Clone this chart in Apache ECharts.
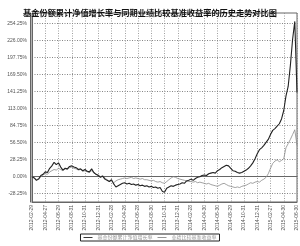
<!DOCTYPE html>
<html><head><meta charset="utf-8">
<script src="https://cdn.jsdelivr.net/npm/echarts@6/dist/echarts.min.js"></script>
<style>html,body{margin:0;padding:0;background:#fff}#c{width:300px;height:246px}</style>
</head><body><div id="c"></div>
<script>
const titleText = '基金份额累计净值增长率与同期业绩比较基准收益率的历史走势对比图';
const seriesNames = ['基金份额累计净值增长率', '业绩比较基准收益率'];
const tickLabels = ['2012-02-29','2012-04-27','2012-06-29','2012-08-31','2012-10-31','2012-12-31','2013-02-28','2013-04-26','2013-06-28','2013-08-30','2013-10-31','2013-12-31','2014-02-28','2014-04-30','2014-06-30','2014-08-29','2014-10-31','2014-12-31','2015-02-27','2015-04-30','2015-06-30'];
const yTicks = [-28.25, 0, 28.25, 56.5, 84.75, 113, 141.25, 169.5, 197.75, 226, 254.25];
const fundValues = [0,-2,-6,-4,2,4,8,7,14,18,24,20,23,16,11,14,13,17,18,16,15,12,13,10,12,9,8,13,7,4,2,-1,1,-4,-6,-8,-5,-12,-17,-15,-13,-11,-10,-12,-11,-13,-12,-14,-13,-15,-14,-16,-15,-17,-16,-18,-17,-19,-18,-24,-26,-19,-17,-15,-16,-14,-13,-12,-10,-11,-7,-6,-4,-6,-3,-1,0,2,3,2,5,6,7,6,10,12,15,17,19,18,14,10,9,7,6,7,9,11,14,18,23,30,38,45,48,52,57,62,70,77,80,84,88,96,110,134,150,185,228,258,140];
const benchValues = [0,-2,-5,-3,0,3,5,4,8,10,12,11,14,12,10,13,12,15,16,14,13,11,12,9,10,8,7,10,6,4,3,0,2,-2,-5,-8,-6,-10,-7,-5,-4,-3,-2,-3,-2,-1,-3,-2,-3,-4,-3,-5,-5,-6,-7,-6,-8,-9,-8,-10,-11,-8,-5,-2,0,-1,-3,-4,-5,-6,-7,-8,-8,-9,-8,-10,-9,-10,-11,-12,-11,-13,-14,-15,-16,-14,-12,-11,-13,-15,-16,-17,-18,-17,-18,-16,-15,-14,-12,-10,-11,-9,-8,-9,-6,-4,-1,5,14,22,26,28,25,27,30,48,55,62,70,78,52];

const perTick = 6;
const categories = fundValues.map((v, i) => (i % perTick === 0 ? tickLabels[i / perTick] : ''));

const chart = echarts.init(document.getElementById('c'), null, {renderer: 'canvas'});
chart.setOption({
  backgroundColor: '#fff',
  animation: false,
  title: {
    text: titleText, left: 'center', top: 4,
    textStyle: {fontFamily: 'Noto Sans CJK SC', fontWeight: 'bold', fontSize: 8.2, color: '#111'}
  },
  legend: {
    data: seriesNames, left: 'center', top: 234,
    backgroundColor: '#fff',
    borderColor: '#222', borderWidth: 1, padding: [1, 3],
    itemWidth: 9, itemHeight: 1, itemGap: 5,
    icon: 'path://M0,0H10V1H0Z',
    textStyle: {fontFamily: 'Noto Sans CJK SC', fontSize: 5, color: '#999'}
  },
  grid: {left: 32, right: 3, top: 13, bottom: 44, show: true, borderColor: '#666', borderWidth: 1},
  xAxis: [{
    type: 'category', data: categories, boundaryGap: false,
    axisLine: {lineStyle: {color: '#666', width: 1}},
    axisTick: {show: false},
    axisLabel: {interval: perTick - 1, rotate: 90, fontSize: 5, color: '#555', margin: 3, fontFamily: 'Liberation Sans'},
    splitLine: {show: true, interval: perTick - 1, lineStyle: {color: '#888', type: [1, 1.5], width: 0.8}}
  }, {
    type: 'category', data: categories, position: 'bottom', offset: 2,
    axisLine: {lineStyle: {color: '#666', width: 1}},
    axisTick: {show: false}, axisLabel: {show: false}, splitLine: {show: false}
  }],
  yAxis: [{
    type: 'value', min: -42, max: 272,
    axisLine: {show: true, lineStyle: {color: '#666', width: 1}},
    axisTick: {show: false, customValues: yTicks},
    axisLabel: {customValues: yTicks, fontSize: 5, color: '#555', margin: 5, fontFamily: 'Liberation Sans',
      formatter: v => v.toFixed(2) + '%'},
    splitLine: {show: true, lineStyle: {color: '#666', type: [1, 1.5], width: 0.8}}
  }, {
    type: 'value', position: 'left', offset: 2,
    axisLine: {show: true, lineStyle: {color: '#666', width: 1}},
    axisTick: {show: false}, axisLabel: {show: false}, splitLine: {show: false}
  }],
  series: [{
    name: seriesNames[0], type: 'line', data: fundValues, showSymbol: false,
    lineStyle: {color: '#222', width: 1.1}, itemStyle: {color: '#222'}, z: 3
  }, {
    name: seriesNames[1], type: 'line', data: benchValues, showSymbol: false,
    lineStyle: {color: '#8a8a8a', width: 0.8}, itemStyle: {color: '#8a8a8a'}, z: 2
  }]
});
</script>
</body></html>
